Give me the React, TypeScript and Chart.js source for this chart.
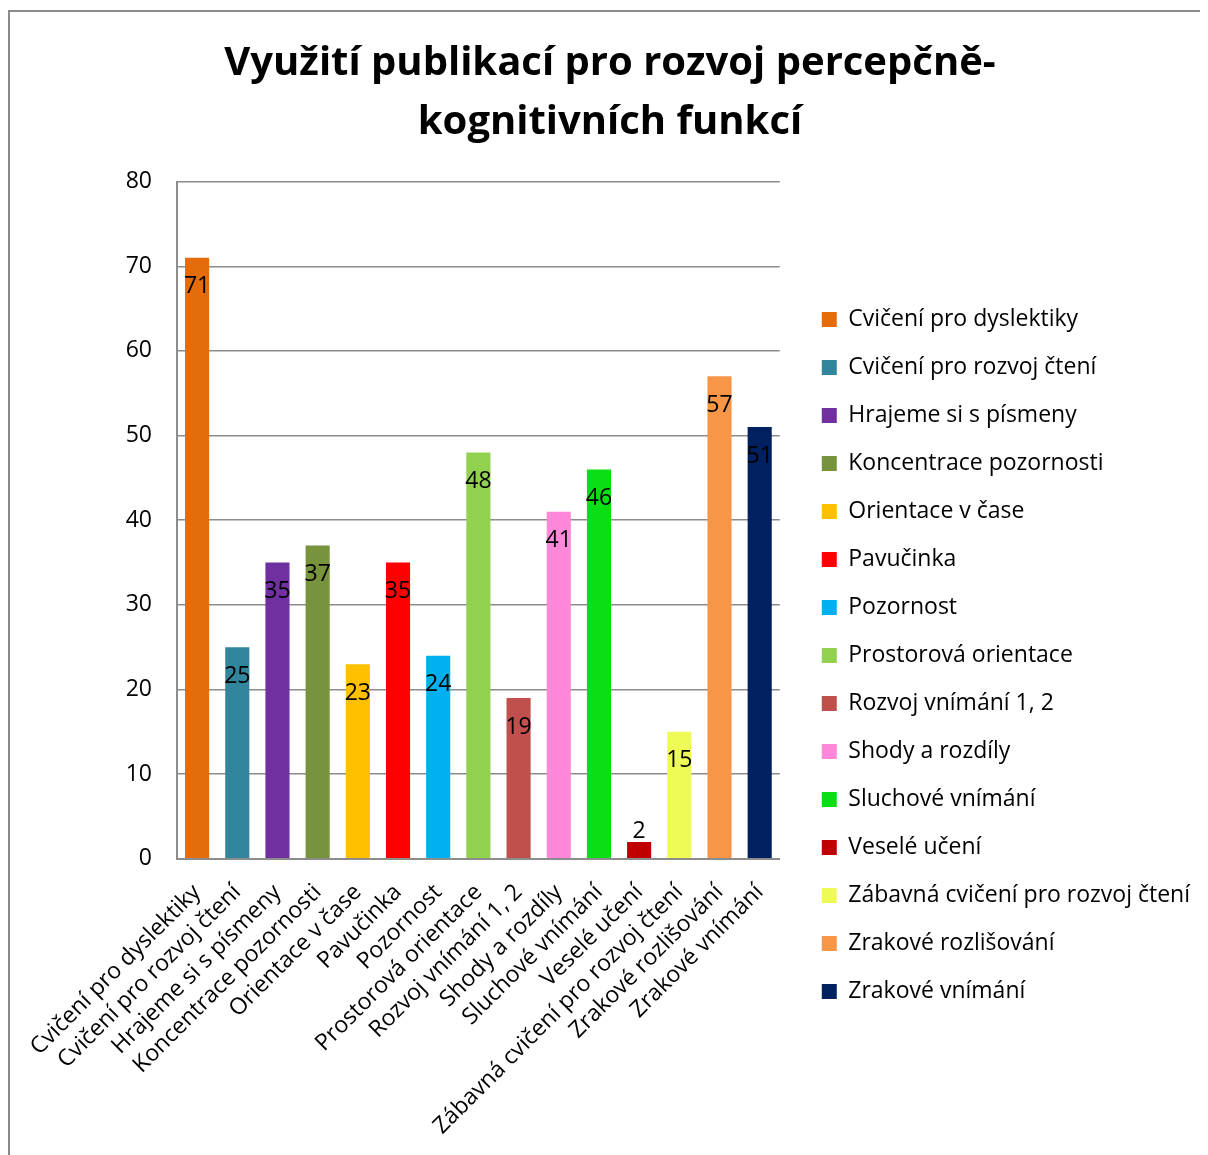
import React, { useEffect, useRef } from "react";
import { Chart, registerables } from "chart.js";

Chart.register(...registerables);

const titleLines = ["Využití publikací pro rozvoj percepčně-", "kognitivních funkcí"];

const categories = [
  "Cvičení pro dyslektiky",
  "Cvičení pro rozvoj čtení",
  "Hrajeme si s písmeny",
  "Koncentrace pozornosti",
  "Orientace v čase",
  "Pavučinka",
  "Pozornost",
  "Prostorová orientace",
  "Rozvoj vnímání 1, 2",
  "Shody a rozdíly",
  "Sluchové vnímání",
  "Veselé učení",
  "Zábavná cvičení pro rozvoj čtení",
  "Zrakové rozlišování",
  "Zrakové vnímání",
];

const values = [71, 25, 35, 37, 23, 35, 24, 48, 19, 41, 46, 2, 15, 57, 51];

const barColors = [
  "#E46C0A",
  "#31859C",
  "#7030A0",
  "#77933C",
  "#FFC000",
  "#FF0000",
  "#00B0F0",
  "#92D050",
  "#C0504D",
  "#FF88D8",
  "#0ADF16",
  "#C00000",
  "#EEFA56",
  "#F79646",
  "#002060",
];

const yMin = 0;
const yMax = 80;
const yStep = 10;

const FONT = "'Open Sans', sans-serif";
const GRID = "#8c8c8c";
const LABEL_SIZE = 23;

const dataLabelPlugin = {
  id: "dataLabels",
  afterDatasetsDraw(chart: any) {
    const ctx = chart.ctx;
    const meta = chart.getDatasetMeta(0);
    ctx.save();
    ctx.font = `${LABEL_SIZE}px ${FONT}`;
    ctx.fillStyle = "#000";
    ctx.textAlign = "center";
    ctx.textBaseline = "middle";
    meta.data.forEach((bar: any, i: number) => {
      const h = bar.base - bar.y;
      const y = h > 40 ? bar.y + 29 : bar.y - 10;
      ctx.fillText(String(values[i]), bar.x, y);
    });
    ctx.restore();
  },
};

export default function App() {
  const ref = useRef<HTMLCanvasElement | null>(null);

  useEffect(() => {
    document.documentElement.style.overflow = "hidden";
    document.body.style.overflow = "hidden";
    const canvas = ref.current;
    if (!canvas) return;
    Chart.defaults.color = "#000";
    const chart = new Chart(canvas, {
      type: "bar",
      data: {
        labels: categories,
        datasets: [
          {
            label: "Využití",
            data: values,
            backgroundColor: barColors,
            borderWidth: 0,
            barPercentage: 0.6,
            categoryPercentage: 1,
          },
        ],
      },
      options: {
        responsive: false,
        animation: false,
        devicePixelRatio: 1,
        layout: { padding: { left: 10, right: 8, top: 0, bottom: 0 } },
        plugins: {
          title: {
            display: true,
            text: titleLines,
            color: "#000",
            font: { family: FONT, size: 40, weight: "bold", lineHeight: 1.47 },
            padding: { top: 22, bottom: 30 },
          },
          legend: {
            display: true,
            position: "right",
            align: "start",
            maxWidth: 600,
            title: {
              display: true,
              text: " ",
              font: { size: 10, lineHeight: 1 },
              padding: { top: 261, bottom: 0 },
            },
            labels: {
              boxWidth: 15,
              boxHeight: 15,
              padding: 25,
              color: "#000",
              font: { family: FONT, size: LABEL_SIZE },
              generateLabels: () =>
                categories.map((c, i) => ({
                  text: c,
                  fillStyle: barColors[i],
                  strokeStyle: barColors[i],
                  lineWidth: 0,
                  hidden: false,
                  index: i,
                  datasetIndex: 0,
                })),
            },
          },
          tooltip: { enabled: false },
        },
        scales: {
          x: {
            grid: { display: false, drawTicks: false },
            border: { display: true, color: GRID, width: 2 },
            ticks: {
              color: "#000",
              font: { family: FONT, size: LABEL_SIZE },
              minRotation: 45,
              maxRotation: 45,
              autoSkip: false,
              padding: 20,
            },
            afterFit: (scale: any) => {
              scale.paddingLeft = 0;
              scale.height = scale.height - 5;
            },
          },
          y: {
            min: yMin,
            max: yMax,
            grid: { color: GRID, lineWidth: 1.5, drawTicks: false },
            border: { display: true, color: GRID, width: 2 },
            ticks: {
              stepSize: yStep,
              color: "#000",
              font: { family: FONT, size: LABEL_SIZE },
              padding: 25,
            },
            afterFit: (scale: any) => {
              scale.width = 157;
            },
          },
          gap: {
            type: "linear",
            position: "right",
            display: true,
            grid: { display: false, drawTicks: false },
            border: { display: false },
            ticks: { display: false },
            afterFit: (scale: any) => {
              scale.width = 17;
            },
          },
        },
      } as any,
      plugins: [dataLabelPlugin],
    });
    return () => chart.destroy();
  }, []);

  return (
    <div style={{ paddingTop: 2 }}>
      <div
        style={{
          width: 1198,
          height: 1143,
          borderTop: "2px solid #8a8a8a",
          borderLeft: "2px solid #8a8a8a",
        }}
      >
        <canvas ref={ref} width={1198} height={1143} style={{ display: "block", width: 1198, height: 1143 }} />
      </div>
    </div>
  );
}
